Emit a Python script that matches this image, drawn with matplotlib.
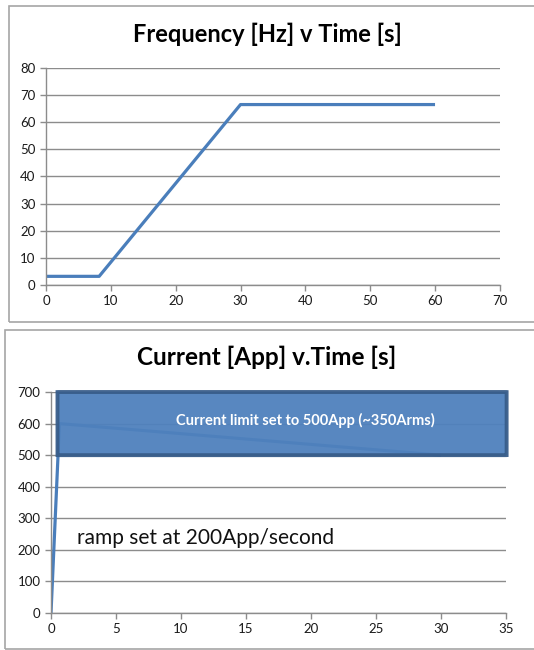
import matplotlib
matplotlib.use("Agg")
import matplotlib.pyplot as plt
from matplotlib.patches import Rectangle, FancyBboxPatch

plt.rcParams['font.family'] = ['Lato', 'DejaVu Sans']

# frequency ramp
freq_t = [0, 8.2, 30, 60]
freq_hz = [3.2, 3.2, 66.5, 66.5]
freq_xticks = [0, 10, 20, 30, 40, 50, 60, 70]
freq_yticks = [0, 10, 20, 30, 40, 50, 60, 70, 80]

# current ramp
cur_t = [0, 0.65, 30]
cur_app = [0, 600, 500]
cur_xticks = [0, 5, 10, 15, 20, 25, 30, 35]
cur_yticks = [0, 100, 200, 300, 400, 500, 600, 700]
limit_lo, limit_hi = 500, 700

LINE = '#4A7EBB'
GRID = '#8C8C8C'

fig = plt.figure(figsize=(5.34, 6.5), dpi=100)

# chart frames
fig.patches.append(Rectangle((9 / 534, 1 - 322 / 650), 1.0, (322 - 6) / 650,
                             transform=fig.transFigure, fill=False,
                             edgecolor='#A6A6A6', lw=1.2))
fig.patches.append(Rectangle((5 / 534, 1 - 649 / 650), 1.0, (649 - 330) / 650,
                             transform=fig.transFigure, fill=False,
                             edgecolor='#A6A6A6', lw=1.2))


def style_axes(ax, xticks, yticks):
    ax.set_xlim(xticks[0], xticks[-1])
    ax.set_ylim(yticks[0], yticks[-1])
    ax.set_xticks(xticks)
    ax.set_yticks(yticks)
    ax.grid(axis='y', color=GRID, lw=1.0)
    ax.set_axisbelow(True)
    for side in ['top', 'right']:
        ax.spines[side].set_visible(False)
    for side in ['left', 'bottom']:
        ax.spines[side].set_color(GRID)
        ax.spines[side].set_linewidth(1.0)
    ax.tick_params(colors=GRID, labelcolor='#1A1A1A', labelsize=9.5,
                   length=4, width=1.0, direction='out')


ax1 = fig.add_axes([0.0861, 0.5615, 0.850, 0.334])
ax1.plot(freq_t, freq_hz, color=LINE, lw=2.3, solid_capstyle='butt')
style_axes(ax1, freq_xticks, freq_yticks)
fig.text(0.5, 1 - 34 / 650, 'Frequency [Hz] v Time [s]', ha='center',
         va='center', fontsize=17, fontweight='bold')

ax2 = fig.add_axes([0.0955, 0.0569, 0.852, 0.340])
ax2.plot(cur_t, cur_app, color=LINE, lw=2.3, solid_capstyle='butt')
style_axes(ax2, cur_xticks, cur_yticks)
fig.text(0.5, 1 - 357 / 650, 'Current [App] v.Time [s]', ha='center',
         va='center', fontsize=17.5, fontweight='bold')

box = FancyBboxPatch((0.5, limit_lo), 34.55, limit_hi - limit_lo,
                     boxstyle='round,pad=0,rounding_size=0.15',
                     facecolor='#4F81BD', edgecolor='#385D8A', lw=2.8,
                     alpha=0.95, clip_on=False, zorder=5)
ax2.add_patch(box)
ax2.text(19.6, 611, 'Current limit set to 500App (~350Arms)', ha='center',
         va='center', fontsize=10.5, fontweight='bold', color='white', zorder=6)
ax2.text(2.0, 237, 'ramp set at 200App/second', ha='left', va='center',
         fontsize=15, color='#111111')

fig.savefig('out.png', dpi=100)
